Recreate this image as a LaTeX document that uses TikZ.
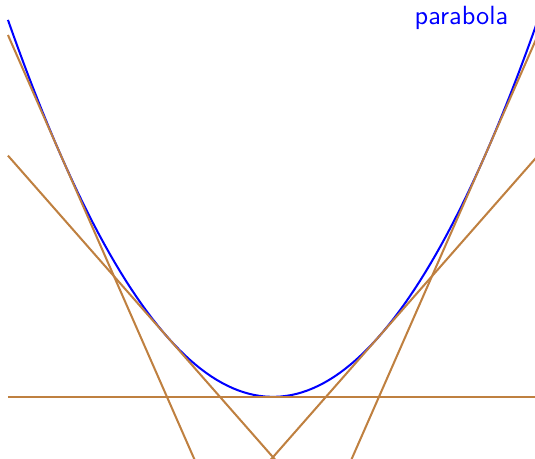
\documentclass[tikz,border=0pt]{standalone}
\usepackage{xcolor}
\usepackage{tikz}
\usetikzlibrary{positioning}
\definecolor{tanbrown}{HTML}{BF8040}
\tikzset{
  curveline/.style={
    thick, color=#1
  },
  curveline/.default=blue,
  tangentline/.style={
    thick, color=tanbrown
  },
  labeltext/.style={
    font=\fontsize{10.4}{12}\selectfont\sffamily, color=#1, inner sep=0pt
  },
  labeltext/.default=blue,
}

\begin{document}
\begin{tikzpicture}[x=1.472cm, y=0.8375cm]
  \useasboundingbox (-2.575,-1.03) rectangle (2.472,6.58);

  % Parabola
  \draw[curveline=blue, domain=-2.5:2.5, samples=100] plot (\x,{\x*\x});

  % Tangent lines at x0 = 0, +-1, +-2
  \foreach \xo in {-2,-1,0,1,2}{
    \draw[tangentline] (-2.5,{2*\xo*(-2.5)-\xo*\xo}) -- (2.5,{2*\xo*2.5-\xo*\xo});
  }

  % Label
  \node[labeltext=blue, anchor=east] (lbl) at (2.225,6.28) {parabola};
\end{tikzpicture}
\end{document}
